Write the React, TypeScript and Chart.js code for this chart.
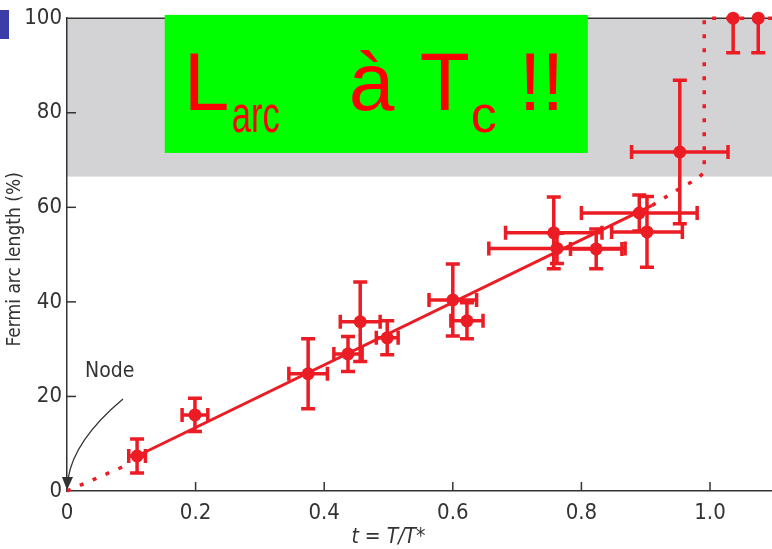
import React, { useEffect, useRef } from "react";
import { Chart, registerables } from "chart.js";

Chart.register(...registerables);

// ---------- data ----------
const tVals = [0.109, 0.199, 0.375, 0.437, 0.456, 0.498, 0.6, 0.622, 0.757, 0.762, 0.823, 0.89, 0.902, 0.953, 1.036, 1.075];
const arcVals = [7.4, 16.1, 24.8, 29.0, 35.8, 32.4, 40.4, 36.0, 54.6, 51.3, 51.2, 58.8, 54.8, 71.7, 100, 100];
const tErr = [0.013, 0.02, 0.03, 0.022, 0.031, 0.017, 0.037, 0.025, 0.075, 0.106, 0.04, 0.09, 0.055, 0.075, 0, 0];
const arcErrUp = [3.6, 3.5, 7.4, 3.7, 8.4, 3.6, 7.6, 3.8, 7.6, 3.2, 4.2, 3.8, 7.5, 15.2, 0, 0];
const arcErrDown = [3.6, 3.5, 7.4, 3.7, 8.4, 3.6, 7.6, 3.8, 7.6, 3.2, 4.2, 3.8, 7.5, 15.2, 7.3, 7.3];

const fitT = [0.109, 0.91];
const fitArc = [7.4, 60.4];
const lowT = [0, 0.09];
const lowArc = [0, 5.3];
const theoryT = [0.91, 0.94, 0.96, 0.98, 0.991, 0.991, 1.1];
const theoryArc = [60.4, 62.9, 64.6, 65.9, 67.5, 100, 100];

const pseudogapBand = [66.5, 100];

const xTicks = [0, 0.2, 0.4, 0.6, 0.8, 1.0];
const xTickLabels = ["0", "0.2", "0.4", "0.6", "0.8", "1.0"];
const yTicks = [0, 20, 40, 60, 80, 100];
const yTickLabels = ["0", "20", "40", "60", "80", "100"];

const yTitle = "Fermi arc length (%)";
const xTitleParts = ["t", " = ", "T/T*"];
const nodeLabel = "Node";

const FONT = "'Liberation Sans Narrow', 'Arial Narrow', 'DejaVu Sans Condensed', sans-serif";
const BIGFONT = "'Liberation Sans', Arial, sans-serif";
const RED = "#ec1c24";
const AXIS = "#333333";

const toXY = (xs: number[], ys: number[]) => xs.map((x, i) => ({ x, y: ys[i] }));

const decor = {
  id: "decor",
  beforeDraw(chart: any) {
    const { ctx, chartArea: a, scales } = chart;
    const y = scales.y;
    ctx.save();
    ctx.fillStyle = "#d3d3d6";
    const yt = y.getPixelForValue(pseudogapBand[1]);
    const yb = y.getPixelForValue(pseudogapBand[0]);
    ctx.fillRect(a.left, yt, a.right - a.left, yb - yt);
    ctx.restore();
  },
  beforeDatasetsDraw(chart: any) {
    const { ctx, chartArea: a, scales } = chart;
    const { x, y } = scales;
    ctx.save();
    ctx.strokeStyle = AXIS;
    ctx.lineWidth = 1.5;
    ctx.beginPath();
    ctx.moveTo(a.left, a.top);
    ctx.lineTo(a.right, a.top);
    ctx.stroke();
    xTicks.forEach((v) => {
      if (v === 0) return;
      const px = x.getPixelForValue(v);
      ctx.beginPath();
      ctx.moveTo(px, a.bottom);
      ctx.lineTo(px, a.bottom - 9);
      ctx.stroke();
    });
    yTicks.forEach((v) => {
      if (v === 0 || v === 100) return;
      const py = y.getPixelForValue(v);
      ctx.beginPath();
      ctx.moveTo(a.left, py);
      ctx.lineTo(a.left + 9, py);
      ctx.stroke();
    });
    ctx.strokeStyle = RED;
    ctx.lineWidth = 3.5;
    ctx.lineCap = "butt";
    const cap = 7;
    tVals.forEach((t, i) => {
      const px = x.getPixelForValue(t);
      const py = y.getPixelForValue(arcVals[i]);
      if (tErr[i] > 0) {
        const x0 = x.getPixelForValue(t - tErr[i]);
        const x1 = x.getPixelForValue(t + tErr[i]);
        ctx.beginPath();
        ctx.moveTo(x0, py);
        ctx.lineTo(x1, py);
        ctx.moveTo(x0, py - cap);
        ctx.lineTo(x0, py + cap);
        ctx.moveTo(x1, py - cap);
        ctx.lineTo(x1, py + cap);
        ctx.stroke();
      }
      const y0 = y.getPixelForValue(arcVals[i] - arcErrDown[i]);
      const y1 = y.getPixelForValue(arcVals[i] + arcErrUp[i]);
      ctx.beginPath();
      ctx.moveTo(px, y0);
      ctx.lineTo(px, y1);
      ctx.moveTo(px - cap, y0);
      ctx.lineTo(px + cap, y0);
      if (arcErrUp[i] > 0) {
        ctx.moveTo(px - cap, y1);
        ctx.lineTo(px + cap, y1);
      }
      ctx.stroke();
    });
    ctx.restore();
  },
  afterDraw(chart: any) {
    const { ctx, chartArea: a, scales } = chart;
    const { x, y } = scales;
    ctx.save();
    const bx0 = x.getPixelForValue(0.152);
    const bx1 = x.getPixelForValue(0.81);
    const by0 = y.getPixelForValue(100.7);
    const by1 = y.getPixelForValue(71.5);
    ctx.fillStyle = "#00ff00";
    ctx.fillRect(bx0, by0, bx1 - bx0, by1 - by0);
    ctx.fillStyle = "#ff0000";
    ctx.textBaseline = "alphabetic";
    ctx.textAlign = "left";
    ctx.font = `82px ${BIGFONT}`;
    ctx.fillText("L", bx0 + 19, by0 + 95);
    ctx.fillText("à", bx0 + 184, by0 + 95);
    ctx.fillText("T", bx0 + 255, by0 + 95);
    ctx.fillText("!!", bx0 + 354, by0 + 95);
    ctx.font = `52px ${BIGFONT}`;
    ctx.fillText("arc", bx0 + 67, by0 + 117, 48);
    ctx.fillText("c", bx0 + 306, by0 + 117);

    const ox = x.getPixelForValue(0);
    const oy = y.getPixelForValue(0);
    ctx.fillStyle = AXIS;
    ctx.strokeStyle = AXIS;
    ctx.font = `21px ${FONT}`;
    ctx.fillText(nodeLabel, ox + 18, oy - 114);
    ctx.lineWidth = 1.3;
    ctx.beginPath();
    ctx.moveTo(ox + 56, oy - 92);
    ctx.quadraticCurveTo(ox + 7, oy - 51, ox + 1, oy - 12);
    ctx.stroke();
    ctx.beginPath();
    ctx.moveTo(ox, oy - 1);
    ctx.lineTo(ox - 5, oy - 14);
    ctx.lineTo(ox + 6, oy - 14);
    ctx.closePath();
    ctx.fill();

    ctx.font = `italic 21px ${FONT}`;
    const w0 = ctx.measureText(xTitleParts[0]).width;
    ctx.font = `21px ${FONT}`;
    const w1 = ctx.measureText(xTitleParts[1]).width;
    ctx.font = `italic 21px ${FONT}`;
    const w2 = ctx.measureText(xTitleParts[2]).width;
    const total = w0 + w1 + w2;
    let cx = x.getPixelForValue(0.5) - total / 2;
    const by = a.bottom + 52;
    ctx.fillText(xTitleParts[0], cx, by);
    cx += w0;
    ctx.font = `21px ${FONT}`;
    ctx.fillText(xTitleParts[1], cx, by);
    cx += w1;
    ctx.font = `italic 21px ${FONT}`;
    ctx.fillText(xTitleParts[2], cx, by);

    ctx.save();
    ctx.translate(20, y.getPixelForValue(49));
    ctx.rotate(-Math.PI / 2);
    ctx.textAlign = "center";
    ctx.font = `19px ${FONT}`;
    ctx.fillText(yTitle, 0, 0);
    ctx.restore();
    ctx.restore();
  },
};

export default function App() {
  const ref = useRef<HTMLCanvasElement | null>(null);
  useEffect(() => {
    if (!ref.current) return;
    const chart = new Chart(ref.current, {
      type: "scatter",
      data: {
        datasets: [
          {
            data: toXY(tVals, arcVals),
            backgroundColor: RED,
            borderWidth: 0,
            pointRadius: 6.5,
            showLine: false,
            clip: false as any,
          },
          {
            data: toXY(fitT, fitArc),
            showLine: true,
            borderColor: RED,
            borderWidth: 3,
            pointRadius: 0,
          },
          {
            data: toXY(lowT, lowArc),
            showLine: true,
            borderColor: RED,
            borderWidth: 3.5,
            borderDash: [4, 10],
            pointRadius: 0,
            clip: false as any,
          },
          {
            data: toXY(theoryT, theoryArc),
            showLine: true,
            borderColor: RED,
            borderWidth: 3.5,
            borderDash: [4, 10],
            pointRadius: 0,
            clip: false as any,
          },
        ] as any,
      },
      options: {
        animation: false,
        responsive: false,
        events: [],
        layout: { autoPadding: false, padding: { top: 18, left: 0, right: 0, bottom: 0 } },
        plugins: { legend: { display: false }, tooltip: { enabled: false } },
        scales: {
          x: {
            type: "linear",
            min: 0,
            max: 1.0964,
            afterBuildTicks: (s: any) => {
              s.ticks = xTicks.map((v) => ({ value: v }));
            },
            afterFit: (s: any) => {
              s.height = 58;
            },
            ticks: {
              callback: (_v: any, i: number) => xTickLabels[i],
              font: { family: FONT, size: 22 },
              color: AXIS,
              padding: 9,
              maxRotation: 0,
              autoSkip: false,
            },
            grid: { display: false, drawTicks: false },
            border: { display: true, color: AXIS, width: 1.5 },
          },
          y: {
            type: "linear",
            min: 0,
            max: 100,
            afterBuildTicks: (s: any) => {
              s.ticks = yTicks.map((v) => ({ value: v }));
            },
            afterFit: (s: any) => {
              s.width = 67;
            },
            ticks: {
              callback: (_v: any, i: number) => yTickLabels[i],
              font: { family: FONT, size: 22 },
              color: AXIS,
              padding: 5,
              autoSkip: false,
            },
            grid: { display: false, drawTicks: false },
            border: { display: true, color: AXIS, width: 1.5 },
          },
        },
      } as any,
      plugins: [decor],
    });
    return () => chart.destroy();
  }, []);
  return (
    <div style={{ position: "fixed", left: 0, top: 0, width: 772, height: 549, background: "#fff", overflow: "hidden" }}>
      <div style={{ position: "absolute", left: 0, top: 10, width: 9, height: 29, background: "#3c3ca8" }} />
      <canvas ref={ref} width={772} height={549} style={{ display: "block", width: 772, height: 549 }} />
    </div>
  );
}
